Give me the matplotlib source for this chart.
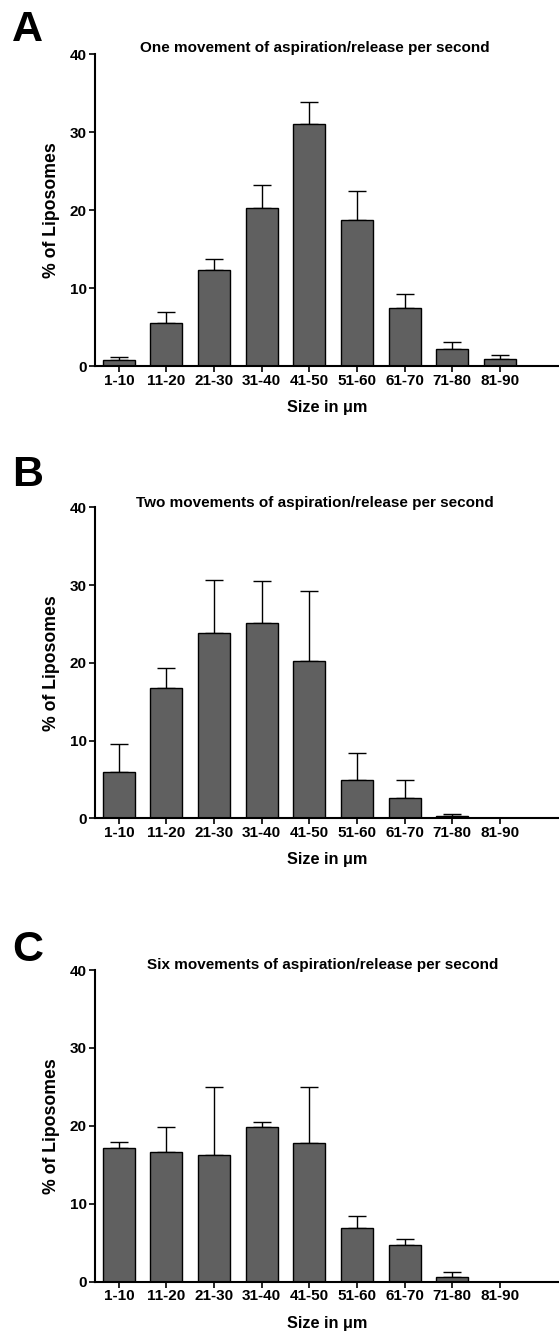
import numpy as np
import matplotlib
matplotlib.use("Agg")
import matplotlib.pyplot as plt

plt.rcParams['font.family'] = ['Liberation Sans', 'DejaVu Sans']
plt.rcParams['font.weight'] = 'bold'

sizes = ["1-10", "11-20", "21-30", "31-40", "41-50", "51-60", "61-70", "71-80", "81-90"]

# mean % of liposomes and top of the error bar (mean + SD) for each panel
one_mean = [0.77, 5.56, 12.36, 20.28, 31.1, 18.74, 7.49, 2.14, 0.86]
one_top = [1.11, 6.97, 13.73, 23.23, 33.9, 22.5, 9.24, 3.12, 1.37]

two_mean = [5.92, 16.72, 23.84, 25.08, 20.24, 4.89, 2.57, 0.26, 0.0]
two_top = [9.52, 19.38, 30.65, 30.48, 29.2, 8.45, 4.93, 0.56, 0.0]

six_mean = [17.11, 16.64, 16.21, 19.81, 17.84, 6.84, 4.71, 0.56, 0.0]
six_top = [17.97, 19.85, 25.03, 20.53, 25.03, 8.47, 5.43, 1.28, 0.0]

titles = ["One movement of aspiration/release per second",
          "Two movements of aspiration/release per second",
          "Six movements of aspiration/release per second"]
letters = ["A", "B", "C"]

W, H = 559, 1335
fig = plt.figure(figsize=(W / 100, H / 100), dpi=100)

# axes boxes in pixels: (top of 40, bottom at 0)
boxes = [(54.3, 366.0), (507.3, 818.3), (970.0, 1281.7)]
letter_top = [10, 455, 930]
title_y = [48, 503, 965]
title_x = [315, 315, 323]

panels = [(one_mean, one_top), (two_mean, two_top), (six_mean, six_top)]

for i, (means, tops) in enumerate(panels):
    top_px, bot_px = boxes[i]
    left_px = 95
    ax = fig.add_axes([left_px / W, 1 - bot_px / H, (W - left_px) / W, (bot_px - top_px) / H])
    x = np.arange(len(sizes))
    means = np.array(means)
    errs = np.array(tops) - means
    ax.bar(x, means, width=0.67, color="#606060", edgecolor="black", linewidth=1.0, zorder=2)
    ax.errorbar(x, means, yerr=[np.zeros_like(errs), errs], fmt="none", ecolor="black",
                elinewidth=1.0, capsize=6.5, capthick=1.0, zorder=1)
    ax.set_xlim(-0.5, 9.24)
    ax.set_ylim(0, 40)
    ax.set_yticks([0, 10, 20, 30, 40])
    ax.set_xticks(x)
    ax.set_xticklabels(sizes)
    for s in ["top", "right"]:
        ax.spines[s].set_visible(False)
    for s in ["left", "bottom"]:
        ax.spines[s].set_linewidth(1.5)
    ax.tick_params(axis="both", width=1.2, length=4, labelsize=11, pad=2)
    ax.tick_params(axis="x", pad=1.5)
    ax.set_ylabel("% of Liposomes", fontsize=12.7, fontweight="bold", labelpad=7)
    ax.set_xlabel("Size in \u03bcm", fontsize=11.7, fontweight="bold", labelpad=9)
    fig.text(title_x[i] / W, 1 - title_y[i] / H, titles[i], ha="center", va="center",
             fontsize=11, fontweight="bold")
    fig.text(12 / W, 1 - letter_top[i] / H, letters[i], ha="left", va="top",
             fontsize=31, fontweight="bold")

fig.savefig("out.png", dpi=100)
